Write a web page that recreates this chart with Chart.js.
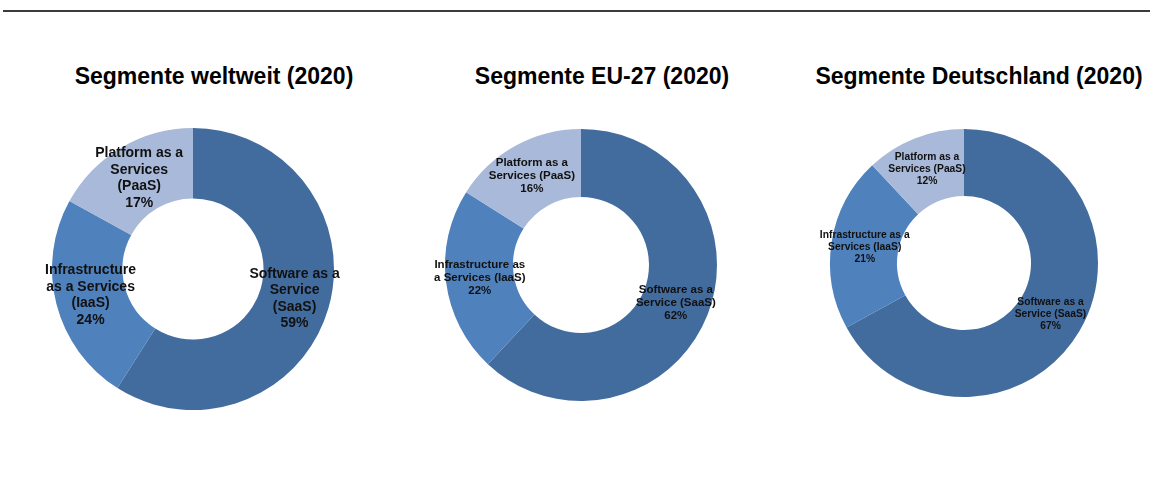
<!DOCTYPE html>
<html lang="de">
<head>
<meta charset="utf-8">
<title>Cloud-Segmente 2020</title>
<script src="https://cdn.jsdelivr.net/npm/chart.js@4.4.1/dist/chart.umd.min.js"></script>
<style>
    html, body { margin: 0; padding: 0; background: #fff; }
    body { width: 1162px; height: 477px; position: relative; overflow: hidden; font-family: "Liberation Sans", Arial, sans-serif; }
    .topline { position: absolute; left: 3px; top: 10px; width: 1147px; height: 2px; background: #3c3c3c; }
    .title { position: absolute; top: 62px; width: 420px; text-align: center; font-weight: bold; font-size: 23px; line-height: 28px; color: #000; }
    canvas { position: absolute; }
</style>
</head>
<body>
<div class="topline"></div>
<div class="title" id="t1" style="left: 4px;"></div>
<div class="title" id="t2" style="left: 392px;"></div>
<div class="title" id="t3" style="left: 769px;"></div>
<canvas id="c1" width="390" height="320" style="left: 0px; top: 110px;"></canvas>
<canvas id="c2" width="380" height="320" style="left: 395px; top: 110px;"></canvas>
<canvas id="c3" width="382" height="320" style="left: 780px; top: 110px;"></canvas>
<script>
// Daten: Segmentanteile 2020 in Prozent (SaaS, IaaS, PaaS)
const titles = ['Segmente weltweit (2020)', 'Segmente EU-27 (2020)', 'Segmente Deutschland (2020)'];
const segments = ['Software as a Service (SaaS)', 'Infrastructure as a Services (IaaS)', 'Platform as a Services (PaaS)'];
const weltweit = [59, 24, 17];
const eu27 = [62, 22, 16];
const deutschland = [67, 21, 12];

// Zeilenumbrüche der Beschriftungen, wie im Original
const labelsWeltweit = [
    ['Software as a', 'Service', '(SaaS)'],
    ['Infrastructure', 'as a Services', '(IaaS)'],
    ['Platform as a', 'Services', '(PaaS)']
];
const labelsEU = [
    ['Software as a', 'Service (SaaS)'],
    ['Infrastructure as', 'a Services (IaaS)'],
    ['Platform as a', 'Services (PaaS)']
];
const labelsDE = [
    ['Software as a', 'Service (SaaS)'],
    ['Infrastructure as a', 'Services (IaaS)'],
    ['Platform as a', 'Services (PaaS)']
];

const colors = ['#436c9e', '#4f81bd', '#a9b9d9'];

// Beschriftung in der Mitte jedes Rings zeichnen
const segmentLabels = {
    id: 'segmentLabels',
    afterDatasetsDraw(chart, args, opts) {
        const ctx = chart.ctx;
        const meta = chart.getDatasetMeta(0);
        const values = chart.data.datasets[0].data;
        ctx.save();
        ctx.font = opts.font;
        ctx.fillStyle = opts.color;
        ctx.textAlign = 'center';
        ctx.textBaseline = 'middle';
        meta.data.forEach((arc, i) => {
            const pos = arc.tooltipPosition();
            const lines = opts.lines[i].concat([values[i] + '%']);
            const top = pos.y - (lines.length - 1) * opts.lineHeight / 2;
            lines.forEach((line, j) => {
                ctx.fillText(line, pos.x, top + j * opts.lineHeight);
            });
        });
        ctx.restore();
    }
};

function makeDonut(id, values, lines, padding, font, lineHeight) {
    return new Chart(document.getElementById(id), {
        type: 'doughnut',
        data: {
            labels: segments,
            datasets: [{
                data: values,
                backgroundColor: colors,
                borderWidth: 0
            }]
        },
        options: {
            responsive: false,
            animation: false,
            events: [],
            cutout: '50%',
            layout: { padding: padding },
            plugins: {
                legend: { display: false },
                tooltip: { enabled: false },
                segmentLabels: { lines: lines, font: font, lineHeight: lineHeight, color: '#111' }
            }
        },
        plugins: [segmentLabels]
    });
}

document.getElementById('t1').textContent = titles[0];
document.getElementById('t2').textContent = titles[1];
document.getElementById('t3').textContent = titles[2];

makeDonut('c1', weltweit, labelsWeltweit, { left: 52, top: 18, right: 56, bottom: 20 },
    'bold 14px "Liberation Sans", Arial, sans-serif', 16.5);
makeDonut('c2', eu27, labelsEU, { left: 50, top: 19, right: 58, bottom: 29 },
    'bold 11.5px "Liberation Sans", Arial, sans-serif', 13);
makeDonut('c3', deutschland, labelsDE, { left: 50, top: 19, right: 64, bottom: 33 },
    'bold 10.3px "Liberation Sans", Arial, sans-serif', 12);
</script>
</body>
</html>
